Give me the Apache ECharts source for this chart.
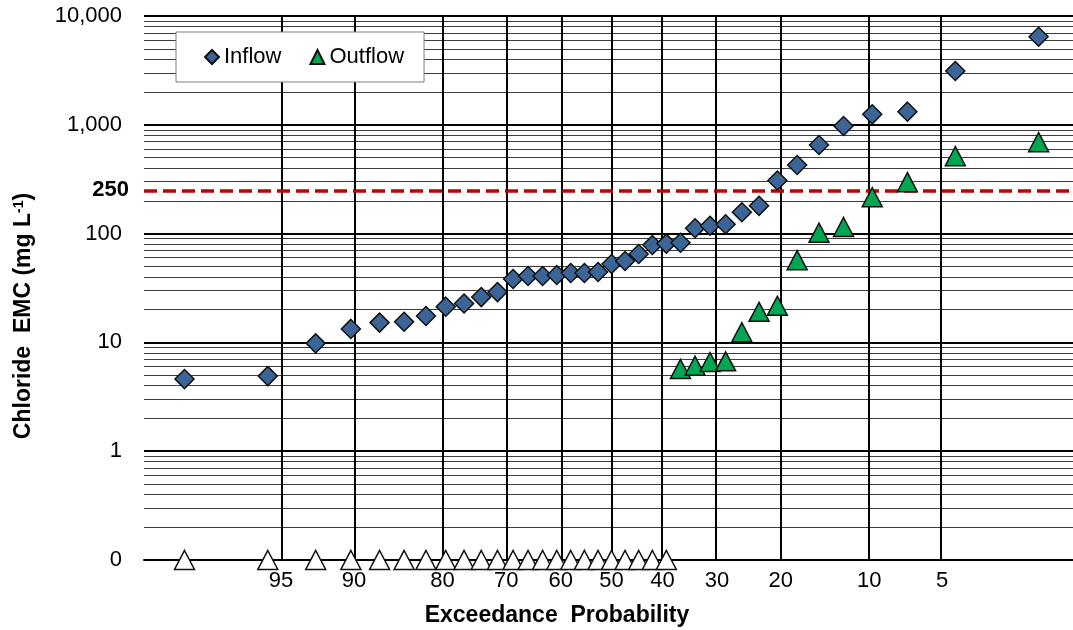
<!DOCTYPE html>
<html>
<head>
<meta charset="utf-8">
<script src="https://cdn.jsdelivr.net/npm/echarts@6/dist/echarts.min.js"></script>
<style>
  html, body { margin: 0; padding: 0; background: #fff; }
  #chart { width: 1073px; height: 630px; }
</style>
</head>
<body>
<div id="chart"></div>
<script>
// Exceedance probability (%) of each ranked storm event
const exceedance = [
  98.32, 95.64, 92.95, 90.27, 87.58, 84.90, 82.21, 79.53, 76.85, 74.16,
  71.48, 68.79, 66.11, 63.42, 60.74, 58.05, 55.37, 52.68, 50.00, 47.32,
  44.63, 41.95, 39.26, 36.58, 33.89, 31.21, 28.52, 25.84, 23.15, 20.47,
  17.79, 15.10, 12.42, 9.73, 7.05, 4.36, 1.68
];

// Chloride event mean concentrations, mg/L
const inflow = [
  4.6, 4.9, 9.8, 13.3, 15.2, 15.5, 17.5, 21.3, 22.8, 26.1,
  29.0, 38.3, 40.8, 40.8, 41.6, 43.4, 43.4, 44.4, 52.6, 56.0,
  64.9, 78.5, 80.9, 82.5, 112, 118, 122, 157, 180, 308,
  427, 652, 975, 1248, 1320, 3120, 6450
];
const outflow = [
  0, 0, 0, 0, 0, 0, 0, 0, 0, 0,
  0, 0, 0, 0, 0, 0, 0, 0, 0, 0,
  0, 0, 0, 5.7, 6.1, 6.6, 6.7, 12.4, 19.1, 21.7,
  57, 102, 115, 216, 297, 515, 692
];

// Probability axis tick labels (%)
const probTicks = [95, 90, 80, 70, 60, 50, 40, 30, 20, 10, 5];
// Chloride guideline, mg/L
const guideline = 250;

const FONT = '"Liberation Sans", Arial, sans-serif';
const Y_MIN = 0.1, Y_MAX = 10000;

// Inverse standard normal CDF (Acklam's rational approximation)
function normInv(p) {
  const a = [-3.969683028665376e+01, 2.209460984245205e+02, -2.759285104469687e+02,
             1.383577518672690e+02, -3.066479806614716e+01, 2.506628277459239e+00];
  const b = [-5.447609879822406e+01, 1.615858368580409e+02, -1.556989798598866e+02,
             6.680131188771972e+01, -1.328068155288572e+01];
  const c = [-7.784894002430293e-03, -3.223964580411365e-01, -2.400758277161838e+00,
             -2.549732539343734e+00, 4.374664141464968e+00, 2.938163982698783e+00];
  const d = [7.784695709041462e-03, 3.224671290700398e-01, 2.445134137142996e+00,
             3.754408661907416e+00];
  const pl = 0.02425, ph = 1 - pl;
  let q, r;
  if (p < pl) {
    q = Math.sqrt(-2 * Math.log(p));
    return (((((c[0]*q+c[1])*q+c[2])*q+c[3])*q+c[4])*q+c[5]) /
           ((((d[0]*q+d[1])*q+d[2])*q+d[3])*q+1);
  }
  if (p <= ph) {
    q = p - 0.5; r = q * q;
    return (((((a[0]*r+a[1])*r+a[2])*r+a[3])*r+a[4])*r+a[5])*q /
           (((((b[0]*r+b[1])*r+b[2])*r+b[3])*r+b[4])*r+1);
  }
  q = Math.sqrt(-2 * Math.log(1 - p));
  return -(((((c[0]*q+c[1])*q+c[2])*q+c[3])*q+c[4])*q+c[5]) /
          ((((d[0]*q+d[1])*q+d[2])*q+d[3])*q+1);
}
// exceedance % -> standard normal position on the probability axis
const probToZ = pct => normInv(1 - pct / 100);

const xMin = probToZ(99);
const xMax = probToZ(1.084);
const tickZ = probTicks.map(probToZ);

// minor log gridlines: 2..9 within each decade
const minorGrid = [];
for (let e = -1; e < 4; e++) {
  for (let k = 2; k <= 9; k++) minorGrid.push(k * Math.pow(10, e));
}

const gridLines = minorGrid.map(v => ({ yAxis: v }))
  .concat(tickZ.map(z => ({ xAxis: z, lineStyle: { color: '#000', width: 2, type: 'solid' } })));

const inflowData = exceedance.map((p, i) => [probToZ(p), inflow[i]]);
const outflowData = exceedance.map((p, i) => {
  const v = outflow[i];
  if (v > 0) return [probToZ(p), v];
  // non-detects sit on the axis floor, drawn hollow
  return { value: [probToZ(p), Y_MIN], itemStyle: { color: '#fff' } };
});

const chart = echarts.init(document.getElementById('chart'), null, { renderer: 'canvas' });
chart.setOption({
  animation: false,
  backgroundColor: '#fff',
  textStyle: { fontFamily: FONT },
  grid: { left: 144, right: 0, top: 16, bottom: 70 },
  legend: {
    data: ['Inflow', 'Outflow'],
    left: 176, top: 32, z: 10,
    orient: 'horizontal',
    backgroundColor: '#fff',
    borderColor: '#7f7f7f', borderWidth: 1,
    padding: [14, 20, 14, 28],
    itemGap: 28, itemWidth: 14, itemHeight: 14,
    textStyle: { fontSize: 22, color: '#000', fontFamily: FONT }
  },
  xAxis: {
    type: 'value', min: xMin, max: xMax,
    axisLine: { show: true, onZero: false, lineStyle: { color: '#000', width: 2 } },
    axisTick: { show: false },
    splitLine: { show: false },
    axisLabel: {
      customValues: tickZ,
      fontSize: 22, color: '#000', fontFamily: FONT, margin: 10,
      formatter: v => {
        let best = 0;
        tickZ.forEach((z, i) => { if (Math.abs(z - v) < Math.abs(tickZ[best] - v)) best = i; });
        return String(probTicks[best]);
      }
    }
  },
  yAxis: {
    type: 'log', logBase: 10, min: Y_MIN, max: Y_MAX,
    axisLine: { show: true, lineStyle: { color: '#000', width: 2 } },
    axisTick: { show: true, length: 7, lineStyle: { color: '#000', width: 1.5 } },
    splitLine: { show: true, lineStyle: { color: '#000', width: 2 } },
    axisLabel: {
      fontSize: 22, color: '#000', fontFamily: FONT, margin: 22,
      formatter: v => (v < 0.5 ? '0' : Math.round(v).toLocaleString('en-US'))
    }
  },
  graphic: [
    {
      type: 'text', x: 557, y: 616, z: 10,
      style: {
        text: 'Exceedance  Probability',
        font: 'bold 23px ' + FONT,
        fill: '#000', align: 'center', verticalAlign: 'middle',
        textAlign: 'center', textVerticalAlign: 'middle'
      }
    },
    {
      type: 'text', x: 24, y: 316, rotation: Math.PI / 2, z: 10,
      style: {
        text: '{t|Chloride  EMC (mg L}{s|-1}{t|)}',
        align: 'center', verticalAlign: 'middle',
        textAlign: 'center', textVerticalAlign: 'middle',
        fill: '#000',
        rich: {
          t: { fontSize: 23, fontWeight: 'bold', fill: '#000', fontFamily: FONT },
          s: { fontSize: 14, fontWeight: 'bold', fill: '#000', fontFamily: FONT, verticalAlign: 'top' }
        }
      }
    }
  ],
  series: [
    {
      name: 'gridlines', type: 'line', data: [], z: 1, silent: true,
      markLine: {
        silent: true, z: 1, symbol: ['none', 'none'],
        label: { show: false },
        lineStyle: { color: '#3c3c3c', width: 1.2, type: 'solid' },
        data: gridLines
      }
    },
    {
      name: 'guideline', type: 'line', data: [], z: 2, silent: true,
      markLine: {
        silent: true, z: 2, symbol: ['none', 'none'],
        lineStyle: { color: '#C00000', width: 3.5, type: [13, 6] },
        label: {
          show: true, position: 'start', distance: 15,
          formatter: String(guideline),
          fontSize: 22, fontWeight: 'bold', color: '#000', fontFamily: FONT
        },
        data: [{ yAxis: guideline }]
      }
    },
    {
      name: 'Inflow', type: 'scatter', z: 3, clip: false,
      symbol: 'diamond', symbolSize: 19,
      itemStyle: { color: '#3A6596', borderColor: '#111', borderWidth: 1.5, opacity: 1 },
      data: inflowData
    },
    {
      name: 'Outflow', type: 'scatter', z: 3, clip: false,
      symbol: 'triangle', symbolSize: [20, 19],
      itemStyle: { color: '#00A651', borderColor: '#111', borderWidth: 1.5, opacity: 1 },
      data: outflowData
    }
  ]
});
</script>
</body>
</html>
